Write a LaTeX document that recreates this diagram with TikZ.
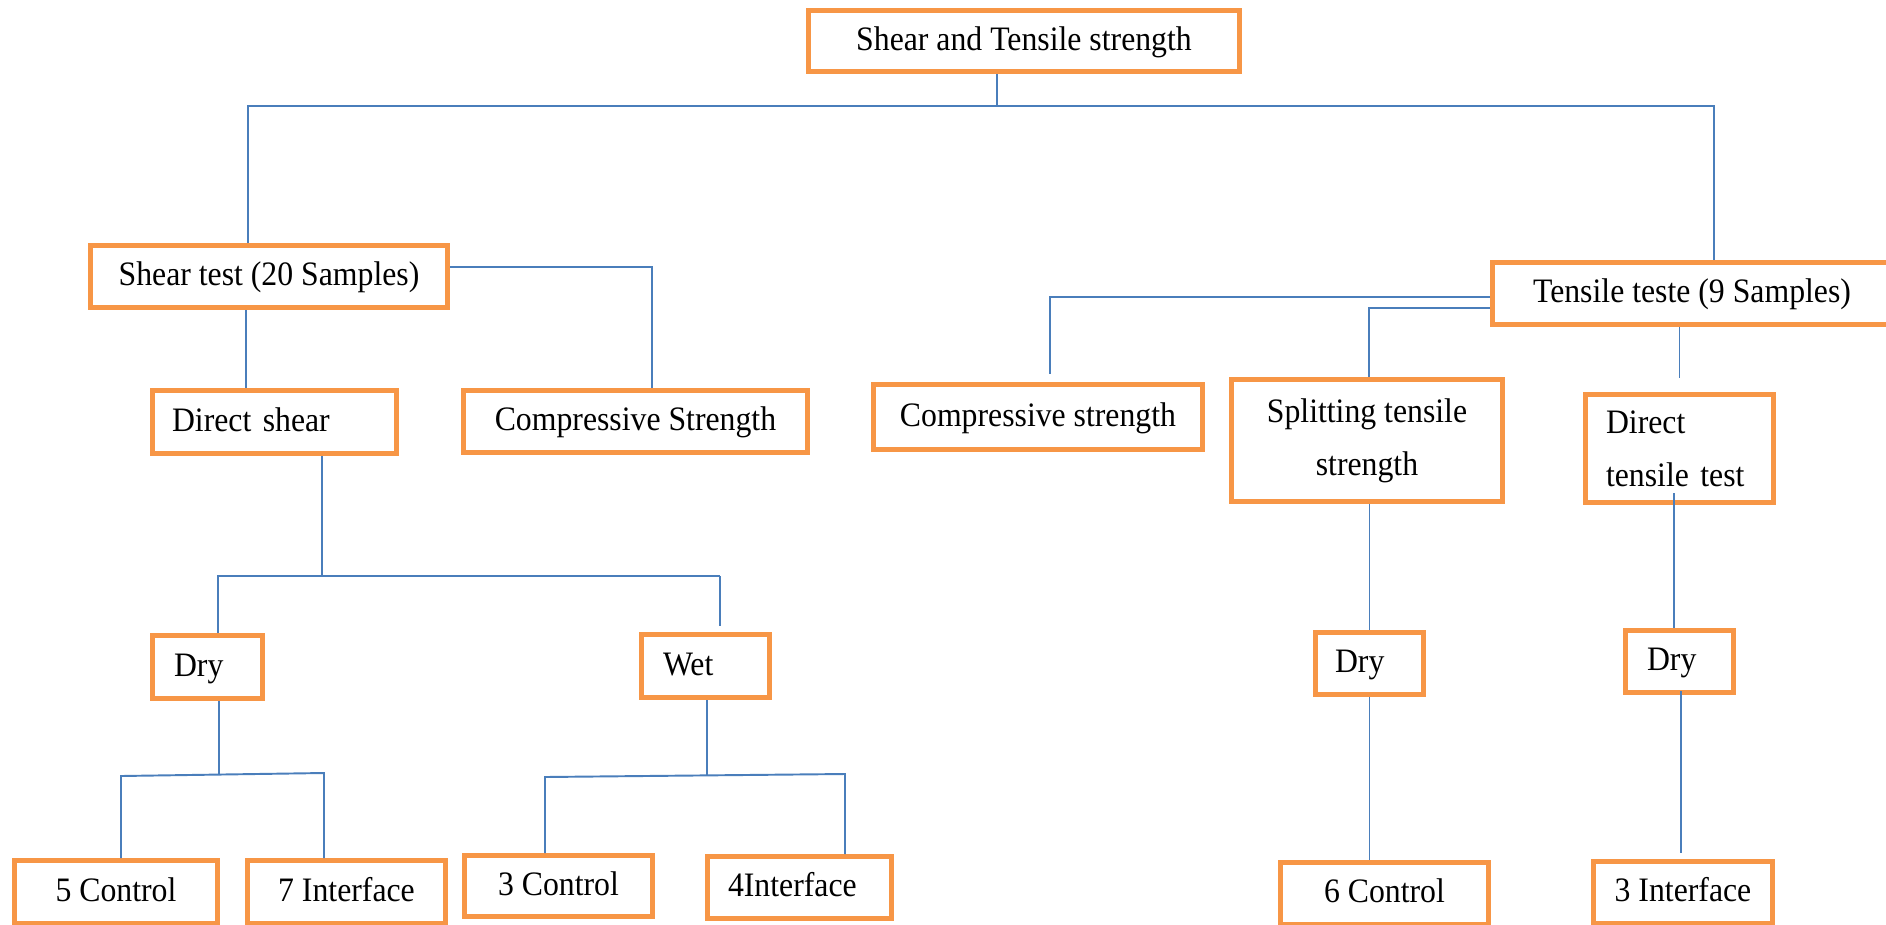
\documentclass[tikz,border=0pt]{standalone}
\usepackage{fontspec}
\setmainfont{Liberation Serif}[FakeStretch=0.927]
\definecolor{boxorange}{RGB}{247,150,70}
\definecolor{linkblue}{RGB}{74,126,187}
\newcommand{\pxu}{0.02cm}
\tikzset{
  box/.style={draw=boxorange, line width=2.85pt, inner sep=0pt, font=\fontsize{19.5pt}{30.2pt}\selectfont},
  oneline/.style={text height=14.6pt, text depth=4pt},
  boxsize/.style 2 args={minimum width=#1*\pxu, minimum height=#2*\pxu},
  lefttext/.style 2 args={text width=#1*\pxu, inner xsep=#2*\pxu},
  link/.style={draw=linkblue, line width=1.1pt}
}
\begin{document}
\begin{tikzpicture}[x=\pxu, y=-\pxu]
  \useasboundingbox (0,0) rectangle (1886,924);
  \clip (0,0) rectangle (1886,924);

  % Top level
  \node[box, oneline, boxsize={431}{61}] (top) at (1024,41) {Shear and Tensile strength};
  \node[box, oneline, boxsize={357}{62}] (shear) at (269,276.5) {Shear test (20 Samples)};
  \node[box, oneline, boxsize={399}{62}] (tensile) at (1692,293.5) {Tensile teste (9 Samples)};

  % Shear branch
  \node[box, oneline, boxsize={244}{63}, lefttext={205}{19.5}] (dshear) at (274.5,422) {Direct shear};
  \node[box, oneline, boxsize={344}{62}] (compS) at (635.5,421.5) {Compressive Strength};
  \node[box, oneline, boxsize={110}{63}, lefttext={67}{21.5}] (dryS) at (207.5,667) {Dry};
  \node[box, oneline, boxsize={128}{63}, lefttext={85}{21.5}] (wet) at (705.5,666) {Wet};
  \node[box, oneline, boxsize={203}{63}] (ctrl5) at (116,892) {5 Control};
  \node[box, oneline, boxsize={198}{63}] (int7) at (346.5,892) {7 Interface};
  \node[box, oneline, boxsize={188}{61}] (ctrl3) at (558.5,886) {3 Control};
  \node[box, oneline, boxsize={184}{62}, lefttext={143}{20.5}] (int4) at (799.5,887.5) {4Interface};

  % Tensile branch
  \node[box, oneline, boxsize={329}{65}] (compT) at (1038,417) {Compressive strength};
  \node[box, boxsize={271}{122}, align=center] (split) at (1367,440.5) {Splitting tensile\\strength};
  \node[box, boxsize={188}{108}, lefttext={147}{20.5}, align=left] (dtens) at (1679.5,448.5) {Direct\\tensile test};
  \node[box, oneline, boxsize={108}{62}, lefttext={69}{19.5}] (dryT1) at (1369.5,663.5) {Dry};
  \node[box, oneline, boxsize={108}{62}, lefttext={65}{21.5}] (dryT2) at (1679.5,661.5) {Dry};
  \node[box, oneline, boxsize={208}{62}] (ctrl6) at (1384.5,893.5) {6 Control};
  \node[box, oneline, boxsize={179}{62}] (int3) at (1683,892.5) {3 Interface};

  % Links from the top
  \coordinate (j0) at (997,106);
  \coordinate (busL) at (248,106);
  \coordinate (busR) at (1714,106);
  \draw[link] (top.south -| j0) -- (j0);
  \draw[link] (shear.north -| busL) -- (busL) -- (busR) -- (tensile.north -| busR);

  % Links under the shear test
  \coordinate (j1) at (652,267);
  \coordinate (j2) at (246,310);
  \draw[link] (shear.east |- j1) -- (j1) -- (j1 |- compS.north);
  \draw[link] (shear.south -| j2) -- (dshear.north -| j2);

  \coordinate (j5) at (322,576);
  \coordinate (j6) at (218,576);
  \coordinate (j7) at (720,576);
  \draw[link] (dshear.south -| j5) -- (j5);
  \draw[link] (dryS.north -| j6) -- (j6) -- (j7);
  \draw[link, shorten >=3.7pt] (j7) -- (wet.north -| j7);

  \coordinate (j8) at (219,775);
  \coordinate (j9) at (121,776);
  \coordinate (j10) at (324,773);
  \draw[link] (dryS.south -| j8) -- (j8);
  \draw[link] (ctrl5.north -| j9) -- (j9) -- (j10) -- (int7.north -| j10);

  \coordinate (j11) at (707,776);
  \coordinate (j12) at (545,777);
  \coordinate (j13) at (845,774);
  \draw[link] (wet.south -| j11) -- (j11);
  \draw[link] (ctrl3.north -| j12) -- (j12) -- (j13) -- (int4.north -| j13);

  % Links under the tensile test
  \coordinate (j3) at (1050,297);
  \coordinate (j4) at (1369,308);
  \draw[link, shorten >=4.3pt] (tensile.west |- j3) -- (j3) -- (j3 |- compT.north);
  \draw[link] (tensile.west |- j4) -- (j4) -- (j4 |- split.north);
  \draw[link, shorten >=7.7pt] (tensile.south -| dtens.north) -- (dtens.north);

  \coordinate (j14) at (1674,493);
  \coordinate (j15) at (1681,691);
  \draw[link] (split.south -| dryT1) -- (dryT1.north);
  \draw[link] (j14) -- (j14 |- dryT2.north);
  \draw[link] (dryT1.south) -- (dryT1.south |- ctrl6.north);
  \draw[link, shorten >=3.7pt] (j15) -- (j15 |- int3.north);
\end{tikzpicture}
\end{document}
